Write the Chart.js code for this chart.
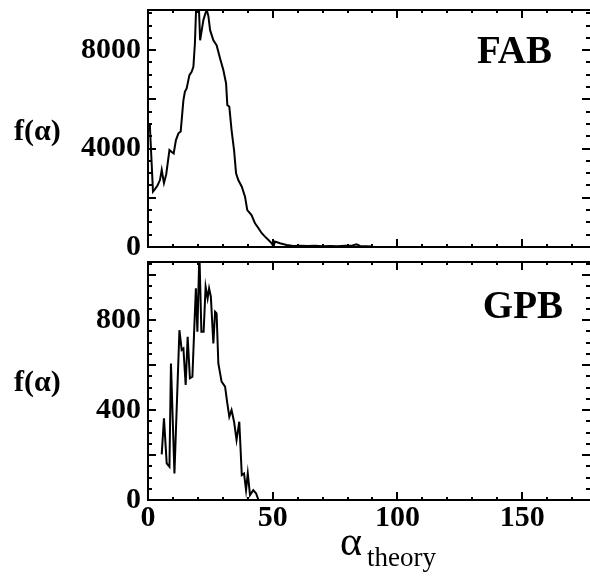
<!DOCTYPE html>
<html>
<head>
<meta charset="utf-8">
<script src="https://cdn.jsdelivr.net/npm/chart.js@4.4.1/dist/chart.umd.min.js"></script>
<style>
  html, body { margin: 0; padding: 0; background: #fff; }
  #wrap { position: relative; width: 590px; height: 577px; overflow: hidden; }
  #top-box { position: absolute; left: 0; top: 0; }
  #bottom-box { position: absolute; left: 0; top: 255px; }
</style>
</head>
<body>
<div id="wrap">
  <div id="top-box"><canvas id="top-chart" width="590" height="265"></canvas></div>
  <div id="bottom-box"><canvas id="bottom-chart" width="590" height="322"></canvas></div>
</div>
<script>
// FAB panel (top)
const fabAlpha = [0.7, 2.0, 2.8, 3.8, 4.8, 5.5, 6.4, 7.3, 8.6, 9.4, 10.3, 11.2, 12.2, 13.1, 14.2, 14.8, 15.5, 16.6, 17.5, 18.2, 18.8, 19.5, 20.2, 20.9, 22.2, 23.5, 24.2, 24.9, 26.2, 27.5, 28.9, 30.2, 31.3, 31.8, 32.6, 33.5, 34.5, 35.3, 36.2, 37.6, 38.9, 39.8, 41.5, 42.9, 44.3, 45.6, 46.9, 48.3, 49.6, 50.3, 50.9, 52.9, 55.6, 58.3, 61, 64, 67, 70, 73, 76, 79, 82, 83.6, 85, 87.5, 90.2];
const fabCounts = [5030, 2250, 2350, 2500, 2720, 3130, 2600, 2950, 3940, 3870, 3800, 4345, 4620, 4690, 5970, 6310, 6440, 6985, 7120, 7320, 8270, 10300, 10300, 8400, 9220, 9650, 9390, 8810, 8400, 8200, 7660, 7190, 6650, 5770, 5700, 4750, 3940, 2990, 2720, 2450, 2040, 1500, 1300, 960, 760, 560, 420, 285, 150, 20, 220, 150, 80, 40, 50, 40, 55, 35, 45, 30, 50, 60, 110, 40, 35, 20];

// GPB panel (bottom)
const gpbAlpha = [5.5, 6.4, 7.5, 8.6, 9.2, 10.6, 12.6, 13.5, 14.2, 15.1, 15.9, 16.8, 17.8, 18.6, 19.2, 19.8, 20.6, 21.4, 22.3, 23.1, 23.9, 24.5, 25.2, 26.2, 26.9, 27.5, 28.2, 29.5, 30.9, 31.8, 32.6, 33.5, 34.5, 35.5, 36.6, 37.6, 38.5, 39.3, 40.0, 40.9, 42.2, 43.3, 44.3, 45.2];
const gpbCounts = [203, 363, 163, 148, 607, 118, 755, 667, 674, 511, 726, 541, 548, 778, 941, 748, 1100, 748, 748, 948, 896, 941, 904, 696, 837, 830, 607, 526, 504, 430, 370, 400, 348, 267, 348, 111, 118, 44, 118, 22, 44, 30, 0, 0];

const xTickLabels = [0, 50, 100, 150];
const fabYTicks = [0, 4000, 8000];
const gpbYTicks = [0, 400, 800];

const SERIF = "'Liberation Serif', 'Times New Roman', serif";
Chart.defaults.font.family = SERIF;
Chart.defaults.color = '#000';

// frame, inward ticks and free text labels
const framePlugin = {
  id: 'frame',
  afterDraw(chart, args, o) {
    const ctx = chart.ctx;
    const a = chart.chartArea;
    const x = chart.scales.x, y = chart.scales.y;
    ctx.save();
    ctx.strokeStyle = '#000';
    ctx.lineWidth = 2;
    const line = (x1, y1, x2, y2) => { ctx.beginPath(); ctx.moveTo(x1, y1); ctx.lineTo(x2, y2); ctx.stroke(); };
    for (let i = 0; i * o.xMinor <= x.max; i++) {
      const v = i * o.xMinor;
      const px = Math.round(x.getPixelForValue(v));
      const len = v % o.xMajor === 0 ? 8 : 3;
      line(px, a.bottom, px, a.bottom - len);
      line(px, a.top, px, a.top + len);
    }
    for (let i = 0; i * o.yMinor <= y.max; i++) {
      const v = i * o.yMinor;
      const py = Math.round(y.getPixelForValue(v));
      const len = v % o.yMajor === 0 ? 8 : 4;
      line(a.left, py, a.left + len, py);
      line(a.right, py, a.right - len, py);
    }
    line(a.left, a.top - 1, a.left, a.bottom + 1);
    line(a.left - 1, a.top, a.right + 2, a.top);
    line(a.left - 1, a.bottom, a.right + 2, a.bottom);
    line(a.right + 1, a.top, a.right + 1, a.bottom);

    ctx.fillStyle = '#000';
    ctx.textBaseline = 'alphabetic';
    ctx.textAlign = 'right';
    ctx.font = 'bold 39px ' + SERIF;
    ctx.fillText(o.name, o.nameX, o.nameY);
    ctx.textAlign = 'left';
    ctx.font = 'bold 30px ' + SERIF;
    ctx.fillText('f(α)', 14, o.yTitleY);
    if (o.xTitle) {
      ctx.font = '42px ' + SERIF;
      ctx.fillText('α', 340, 300);
      ctx.font = '27px ' + SERIF;
      ctx.fillText('theory', 367, 311);
    }
    ctx.restore();
  }
};

function makeChart(canvasId, xs, ys, yMax, yTicks, opts) {
  const points = xs.map((v, i) => ({ x: v, y: ys[i] }));
  return new Chart(document.getElementById(canvasId), {
    type: 'line',
    data: {
      datasets: [{
        data: points,
        borderColor: '#000',
        borderWidth: 2,
        pointRadius: 0,
        tension: 0,
        fill: false
      }]
    },
    options: {
      responsive: false,
      animation: false,
      layout: { padding: opts.padding },
      plugins: {
        legend: { display: false },
        tooltip: { enabled: false },
        frame: opts.frame
      },
      scales: {
        x: {
          type: 'linear',
          min: 0,
          max: 177.2,
          grid: { display: false, drawTicks: false },
          border: { display: false },
          afterBuildTicks: s => { s.ticks = xTickLabels.map(v => ({ value: v })); },
          afterFit: s => { s.height = opts.xHeight; s.paddingLeft = 0; s.paddingRight = 0; },
          ticks: {
            display: opts.showX,
            autoSkip: false,
            padding: 0,
            maxRotation: 0,
            font: { size: 30, weight: 'bold' },
            callback: v => String(v)
          }
        },
        y: {
          min: 0,
          max: yMax,
          grid: { display: false, drawTicks: false },
          border: { display: false },
          afterBuildTicks: s => { s.ticks = yTicks.map(v => ({ value: v })); },
          afterFit: s => { s.width = 148; s.paddingTop = 0; s.paddingBottom = 0; },
          ticks: {
            autoSkip: false,
            padding: 7,
            font: { size: 30, weight: 'bold' },
            callback: v => String(v)
          }
        }
      }
    },
    plugins: [framePlugin]
  });
}

makeChart('top-chart', fabAlpha, fabCounts, 9630, fabYTicks, {
  padding: { top: 10, right: 0, bottom: 10, left: 0 },
  xHeight: 8,
  showX: false,
  frame: { xMinor: 10, xMajor: 50, yMinor: 500, yMajor: 2000, name: 'FAB', nameX: 552, nameY: 63, yTitleY: 140 }
});

makeChart('bottom-chart', gpbAlpha, gpbCounts, 1058, gpbYTicks, {
  padding: { top: 7, right: 0, bottom: 0, left: 0 },
  xHeight: 77,
  showX: true,
  frame: { xMinor: 10, xMajor: 50, yMinor: 50, yMajor: 200, name: 'GPB', nameX: 563, nameY: 63, yTitleY: 136, xTitle: true }
});
</script>
</body>
</html>
